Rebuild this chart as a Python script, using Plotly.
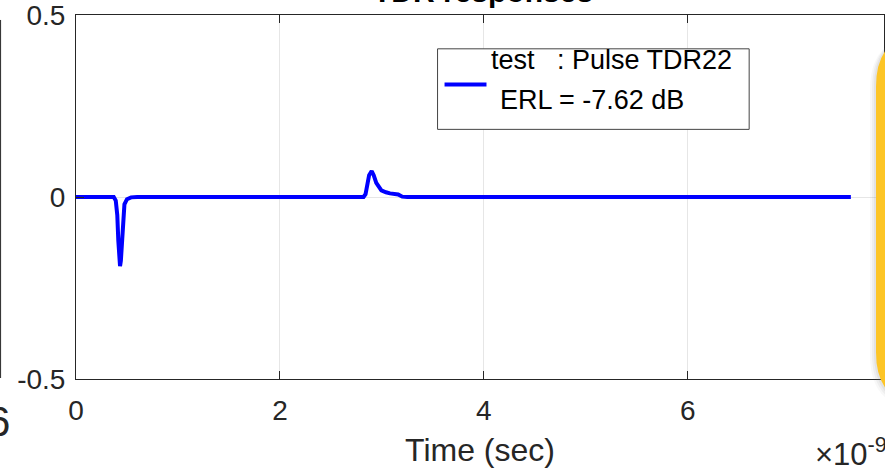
import plotly.graph_objects as go

# ---- data (time in units of 1e-9 s) ----
time_ns = [0.0, 0.37, 0.39, 0.405, 0.415, 0.425, 0.432, 0.44, 0.45, 0.46, 0.475, 0.50, 0.54, 0.60,
           2.82, 2.84, 2.855, 2.875, 2.90, 2.92, 2.945, 2.97, 2.995, 3.04, 3.08, 3.16, 3.20, 3.25, 7.60]
response = [0.0, 0.0, -0.01, -0.05, -0.12, -0.175, -0.19, -0.175, -0.12, -0.06, -0.02, -0.006, -0.001, 0.0,
            0.0, 0.008, 0.035, 0.06, 0.071, 0.06, 0.039, 0.026, 0.018, 0.013, 0.010, 0.007, 0.001, 0.0, 0.0]

x_ticks = [0, 2, 4, 6]
y_ticks = [-0.5, 0, 0.5]
y_tick_labels = ["-0.5", "0", "0.5"]
legend_line1 = "test\u00a0\u00a0\u00a0: Pulse TDR22"
legend_line2 = "ERL = -7.62 dB"
title_text = "TDR responses"
x_label = "Time (sec)"

W, H = 885, 469
L, T, B = 76, 13, 90
PW = W - L
PH = H - T - B

def px(p):
    return (p - L) / PW

def py(p):
    return (H - B - p) / PH

FONT = "Liberation Sans, Arial, Helvetica, sans-serif"
AX = "#262626"

fig = go.Figure()
fig.add_trace(go.Scatter(x=time_ns, y=response, mode="lines",
                         line=dict(color="#0000FF", width=4),
                         showlegend=False, hoverinfo="skip"))

fig.update_layout(
    width=W, height=H,
    margin=dict(l=L, r=0, t=T, b=B),
    paper_bgcolor="white", plot_bgcolor="white",
    font=dict(family=FONT, color=AX, size=28),
    showlegend=False,
)
fig.update_xaxes(range=[0, 7.925], tickvals=x_ticks, ticktext=[str(v) for v in x_ticks],
                 showgrid=True, gridcolor="#E6E6E6", gridwidth=1,
                 showline=True, linecolor=AX, linewidth=1, mirror="ticks",
                 ticks="inside", ticklen=8, tickcolor=AX, zeroline=False,
                 tickfont=dict(size=28, color=AX), ticklabelstandoff=6,
                 ticklabeloverflow="allow",
                 title=dict(text=x_label, font=dict(size=32, color=AX), standoff=14))
fig.update_yaxes(range=[-0.5, 0.5], tickvals=y_ticks, ticktext=y_tick_labels,
                 showgrid=True, gridcolor="#E6E6E6", gridwidth=1,
                 showline=True, linecolor=AX, linewidth=1, mirror="ticks",
                 ticks="inside", ticklen=8, tickcolor=AX, zeroline=False,
                 tickfont=dict(size=28, color=AX), ticklabelstandoff=4,
                 ticklabeloverflow="allow")

shapes = []
# neighbouring axes border at far left
shapes.append(dict(type="line", xref="paper", yref="paper",
                   x0=px(0.5), x1=px(0.5), y0=py(18), y1=py(378),
                   line=dict(color=AX, width=1)))
# legend box
shapes.append(dict(type="rect", xref="paper", yref="paper",
                   x0=px(438), x1=px(750), y0=py(47), y1=py(128),
                   line=dict(color="#444444", width=1), fillcolor="white", layer="above"))
shapes.append(dict(type="line", xref="paper", yref="paper",
                   x0=px(445), x1=px(487), y0=py(83), y1=py(83),
                   line=dict(color="#0000FF", width=4), layer="above"))
# yellow callout at right edge with soft shadow
def rounded(x0, y0, y1, r, dx=0, dy=0):
    a, b, c = px(x0 + dx), py(y0 + dy), py(y1 + dy)
    xr = px(W + 40)
    k = r / PW
    kv = r / PH
    return (f"M {xr},{b} L {a + k},{b} Q {a},{b} {a},{b - kv} "
            f"L {a},{c + kv} Q {a},{c} {a + k},{c} L {xr},{c} Z")
for i, op in enumerate([0.06, 0.08, 0.10]):
    shapes.append(dict(type="path", xref="paper", yref="paper",
                       path=rounded(877 - 6 + 2 * i, 30, 407, 55, dx=0, dy=3 - i),
                       fillcolor="#808080", opacity=op, line=dict(width=0), layer="above"))
shapes.append(dict(type="path", xref="paper", yref="paper",
                   path=rounded(877, 30, 407, 55),
                   fillcolor="#FDC526", line=dict(width=0), layer="above"))
fig.update_layout(shapes=shapes)

ann = []
ann.append(dict(text=f"<b>{title_text}</b>", xref="paper", yref="paper",
                x=px(484), y=py(-11), xanchor="center", yanchor="middle",
                showarrow=False, font=dict(size=30, color="#000000")))
ann.append(dict(text=legend_line1, xref="paper", yref="paper",
                x=px(490), y=py(58.6), xanchor="left", yanchor="middle",
                showarrow=False, font=dict(size=27, color="#000000")))
ann.append(dict(text=legend_line2, xref="paper", yref="paper",
                x=px(499), y=py(98.6), xanchor="left", yanchor="middle",
                showarrow=False, font=dict(size=27, color="#000000")))
ann.append(dict(text="\u00d710<sup>-9</sup>", xref="paper", yref="paper",
                x=px(814), y=py(452), xanchor="left", yanchor="middle",
                showarrow=False, font=dict(size=31, color=AX)))
ann.append(dict(text="6", xref="paper", yref="paper",
                x=px(12), y=py(422), xanchor="right", yanchor="middle",
                showarrow=False, font=dict(size=42, color=AX)))
fig.update_layout(annotations=ann)

fig.write_html("out.html")
